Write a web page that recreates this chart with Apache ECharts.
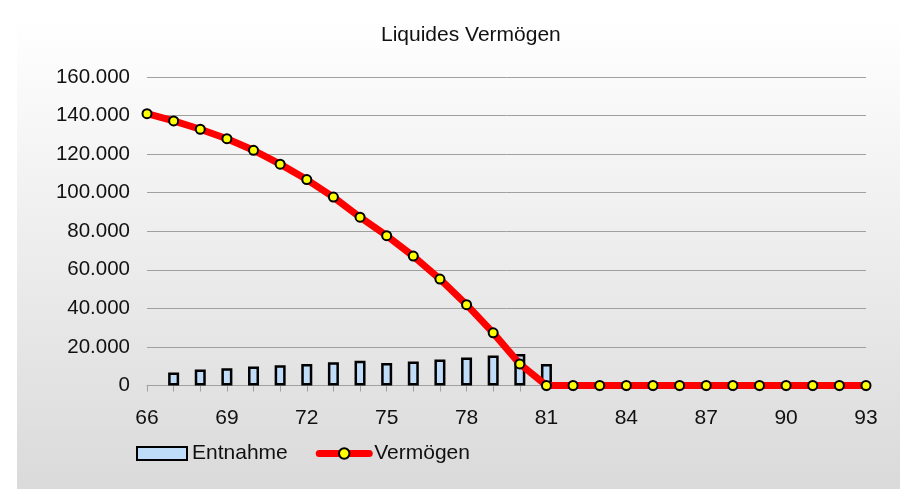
<!DOCTYPE html>
<html>
<head>
<meta charset="utf-8">
<script src="https://cdn.jsdelivr.net/npm/echarts@6/dist/echarts.min.js"></script>
<style>
  html, body { margin: 0; padding: 0; background: #fff; }
  #chart { width: 900px; height: 489px; }
</style>
</head>
<body>
<div id="chart"></div>
<script>
const ages = ['66', '67', '68', '69', '70', '71', '72', '73', '74', '75', '76', '77', '78', '79',
  '80', '81', '82', '83', '84', '85', '86', '87', '88', '89', '90', '91', '92', '93'];

const entnahme = [null, 6700, 8300, 9000, 9800, 10500, 11200, 12100, 12800, 11700, 12400, 13500,
  14500, 15500, 16400, 11200, null, null, null, null, null, null, null, null, null, null, null, null];

const vermoegen = [141000, 137200, 132900, 128000, 122000, 114800, 106800, 97700, 87300, 77700,
  67100, 55200, 41900, 27300, 11200, 0, 0, 0, 0, 0, 0, 0, 0, 0, 0, 0, 0, 0];

const font = 'Liberation Sans, Arial, sans-serif';

function formatThousands(v) {
  return String(v).replace(/\B(?=(\d{3})+(?!\d))/g, '.');
}

const chart = echarts.init(document.getElementById('chart'));

chart.setOption({
  animation: false,
  backgroundColor: '#ffffff',
  graphic: [{
    type: 'rect',
    z: -10,
    silent: true,
    shape: { x: 17, y: 20, width: 883, height: 469 },
    style: {
      fill: new echarts.graphic.LinearGradient(0, 0, 0, 1, [
        { offset: 0, color: '#ffffff' },
        { offset: 1, color: '#dadada' }
      ])
    }
  }],
  title: {
    text: 'Liquides Vermögen',
    left: 376,
    top: 20,
    textStyle: { fontFamily: font, fontSize: 21, fontWeight: 'normal', color: '#111' }
  },
  legend: {
    left: 131,
    top: 438,
    itemWidth: 50,
    itemHeight: 13,
    itemGap: 28,
    textStyle: { fontFamily: font, fontSize: 21, color: '#111' },
    data: [
      { name: 'Entnahme', icon: 'rect' },
      { name: 'Vermögen' }
    ],
    lineStyle: { width: 7, cap: 'round' }
  },
  grid: { left: 147, right: 34, top: 77, bottom: 103.5 },
  xAxis: {
    type: 'category',
    data: ages,
    boundaryGap: false,
    axisLine: { lineStyle: { color: '#a0a0a0', width: 1 } },
    axisTick: { show: true, length: 6, interval: 0, lineStyle: { color: '#a0a0a0' } },
    axisLabel: {
      interval: 2,
      margin: 22,
      fontFamily: font,
      fontSize: 21,
      color: '#111'
    },
    splitLine: { show: false }
  },
  yAxis: {
    type: 'value',
    min: 0,
    max: 160000,
    interval: 20000,
    axisLine: { show: false },
    axisTick: { show: false },
    axisLabel: {
      margin: 17,
      fontFamily: font,
      fontSize: 20.5,
      color: '#111',
      formatter: formatThousands
    },
    splitLine: { lineStyle: { color: '#a0a0a0', width: 1 } }
  },
  series: [
    {
      name: 'Entnahme',
      type: 'bar',
      data: entnahme,
      barWidth: 11,
      itemStyle: { color: '#bfdcf8', borderColor: '#000', borderWidth: 2.5 },
      z: 2
    },
    {
      name: 'Vermögen',
      type: 'line',
      data: vermoegen,
      symbol: 'circle',
      symbolSize: 9,
      showAllSymbol: true,
      lineStyle: { color: '#ff0000', width: 7 },
      itemStyle: { color: '#ffff00', borderColor: '#000', borderWidth: 2 },
      z: 3
    }
  ]
});
</script>
</body>
</html>
